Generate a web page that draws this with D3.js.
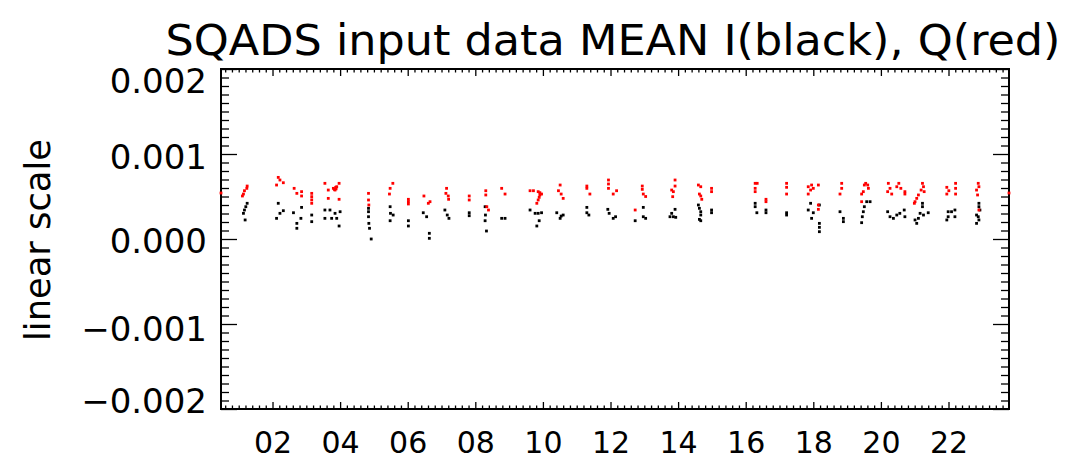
<!DOCTYPE html>
<html><head><meta charset="utf-8">
<script src="https://cdn.jsdelivr.net/npm/d3@7"></script>
<style>html,body{margin:0;padding:0;background:#fff;}svg{display:block;}</style>
</head><body><svg id="c" width="1067" height="471"></svg>
<script>
const titleText = "SQADS input data MEAN I(black), Q(red)";
const yTitle = "linear scale";
const xDomain = [0.476, 23.79];
const yDomain = [-0.002, 0.002];
const xMajorTicks = [2,4,6,8,10,12,14,16,18,20,22];
const yMajorTicks = [-0.002,-0.001,0,0.001,0.002];

const qHours = [0.476,
 1.25,1.24,1.17,1.14,1.11,
 2.17,2.22,2.32,2.12,
 2.64,2.72,2.86,2.86,
 3.16,3.16,3.16,3.16,
 3.55,3.65,3.80,3.90,3.97,3.65,3.97,3.85,3.87,3.83,3.88,
 4.84,4.84,4.85,
 5.56,5.48,5.46,
 6.02,6.02,6.02,
 6.48,6.61,6.66,
 7.15,7.13,7.20,7.21,
 7.82,7.82,
 8.31,8.31,8.34,8.39,
 8.78,8.88,
 9.62,9.72,9.86,9.91,9.96,9.86,9.82,9.91,9.89,
 10.51,10.46,10.54,10.60,
 11.30,11.30,11.39,
 11.94,11.94,11.94,12.18,12.08,
 12.94,12.94,12.97,13.04,12.73,
 13.91,13.91,13.81,13.86,13.84,
 14.60,14.67,14.63,14.67,14.70,
 14.99,14.99,
 16.28,16.28,16.28,16.34,16.60,16.60,
 17.21,17.21,17.21,
 17.85,17.95,18.00,17.92,17.85,18.15,18.15,18.15,
 18.84,18.84,18.79,
 19.51,19.55,19.61,19.63,19.48,19.43,19.43,
 20.22,20.27,20.20,20.32,20.47,20.53,20.59,20.71,20.71,
 21.23,21.26,21.19,21.28,21.11,21.06,21.01,20.99,
 21.95,22.01,21.95,22.21,22.21,22.21,
 22.88,22.90,22.83,22.86,22.90,
 23.79];
const qValues = [0.000541,
 0.000623,0.000596,0.000568,0.000529,0.000506,
 0.000725,0.000694,0.000662,0.000635,
 0.000596,0.000537,0.000557,0.000506,
 0.000537,0.000498,0.000460,0.000420,
 0.000655,0.000576,0.000596,0.000615,0.000655,0.000478,0.000467,0.000576,0.000608,0.000584,0.000590,
 0.000537,0.000459,0.000400,
 0.000655,0.000596,0.000529,
 0.000467,0.000440,0.000412,
 0.000506,0.000420,0.000439,
 0.000596,0.000537,0.000506,0.000467,
 0.000506,0.000459,
 0.000568,0.000518,0.000380,0.000341,
 0.000596,0.000529,
 0.000568,0.000568,0.000557,0.000518,0.000529,0.000459,0.000420,0.000545,0.000490,
 0.000635,0.000568,0.000529,0.000478,
 0.000623,0.000596,0.000529,
 0.000694,0.000647,0.000596,0.000568,0.000529,
 0.000623,0.000584,0.000529,0.000500,0.000341,
 0.000694,0.000623,0.000576,0.000557,0.000498,
 0.000635,0.000615,0.000529,0.000506,0.000467,
 0.000596,0.000557,
 0.000655,0.000596,0.000557,0.000655,0.000467,0.000439,
 0.000655,0.000608,0.000529,
 0.000615,0.000635,0.000596,0.000576,0.000529,0.000635,0.000400,0.000349,
 0.000655,0.000596,0.000529,
 0.000635,0.000655,0.000635,0.000596,0.000557,0.000529,0.000439,
 0.000655,0.000596,0.000557,0.000529,0.000615,0.000655,0.000596,0.000557,0.000529,
 0.000655,0.000615,0.000576,0.000557,0.000518,0.000478,0.000439,0.000420,
 0.000608,0.000568,0.000529,0.000655,0.000596,0.000529,
 0.000655,0.000615,0.000576,0.000518,0.000341,
 0.000541];

const iHours = [
 1.25,1.21,1.17,1.14,1.19,
 2.17,2.32,2.22,2.12,
 2.62,2.86,2.72,2.72,2.84,
 3.16,3.16,
 3.55,3.70,3.55,3.75,3.85,4.00,3.90,3.97,
 4.84,4.84,4.84,4.85,4.87,4.92,
 5.48,5.49,5.57,5.48,
 6.02,6.02,
 6.46,6.56,6.64,6.64,
 7.10,7.17,7.22,
 7.82,7.82,
 8.29,8.30,8.29,8.33,
 8.78,8.88,
 9.62,9.77,9.86,9.96,9.89,9.82,
 10.41,10.54,10.60,10.51,
 11.30,11.30,11.36,
 11.92,11.96,12.08,12.15,
 12.97,12.97,13.04,12.73,
 13.81,13.91,13.76,13.86,13.93,
 14.60,14.63,14.67,14.67,14.63,14.67,
 14.99,14.99,
 16.28,16.28,16.33,16.60,16.60,
 17.21,17.21,
 17.85,17.92,18.00,17.95,18.18,18.18,18.18,18.18,
 18.79,18.89,18.89,
 19.58,19.68,19.51,19.48,19.45,19.43,
 20.20,20.27,20.37,20.47,20.56,20.69,20.71,
 21.23,21.23,21.16,21.11,21.01,21.06,21.26,21.40,
 21.99,22.09,22.19,22.19,21.99,21.95,
 22.90,22.90,22.93,22.83,22.88,22.90,22.83];
const iValues = [
 0.000420,0.000380,0.000341,0.000302,0.000224,
 0.000420,0.000333,0.000302,0.000243,
 0.000309,0.000372,0.000184,0.000126,0.000243,
 0.000282,0.000204,
 0.000341,0.000341,0.000243,0.000243,0.000302,0.000321,0.000243,0.000153,
 0.000361,0.000321,0.000262,0.000184,0.000126,0.000000,
 0.000380,0.000302,0.000282,0.000215,
 0.000215,0.000153,
 0.000309,0.000262,0.000067,0.000008,
 0.000341,0.000282,0.000243,
 0.000309,0.000274,
 0.000380,0.000282,0.000215,0.000094,
 0.000243,0.000243,
 0.000341,0.000302,0.000302,0.000309,0.000215,0.000153,
 0.000309,0.000270,0.000282,0.000243,
 0.000372,0.000309,0.000282,
 0.000349,0.000302,0.000243,0.000262,
 0.000372,0.000262,0.000243,0.000215,
 0.000302,0.000349,0.000262,0.000262,0.000255,
 0.000400,0.000361,0.000321,0.000282,0.000231,0.000215,
 0.000341,0.000309,
 0.000420,0.000380,0.000309,0.000341,0.000309,
 0.000309,0.000282,
 0.000341,0.000420,0.000309,0.000243,0.000400,0.000184,0.000137,0.000086,
 0.000321,0.000243,0.000204,
 0.000439,0.000439,0.000380,0.000321,0.000262,0.000192,
 0.000321,0.000262,0.000243,0.000282,0.000302,0.000341,0.000262,
 0.000420,0.000380,0.000302,0.000243,0.000224,0.000184,0.000282,0.000309,
 0.000321,0.000321,0.000341,0.000262,0.000262,0.000224,
 0.000420,0.000380,0.000341,0.000282,0.000262,0.000224,0.000184];

const svg = d3.select("#c");
const L = 221, R = 1009, T = 69, B = 409;
const x = d3.scaleLinear().domain(xDomain).range([L, R]);
const y = d3.scaleLinear().domain(yDomain).range([B, T]);
const font = "'DejaVu Sans ExtraLight','DejaVu Sans', sans-serif";

const xMinor = d3.range(0, 24.01, 0.2).map(v => +v.toFixed(1)).filter(v => v >= xDomain[0] && v <= xDomain[1] && Math.abs(v/2 - Math.round(v/2)) > 1e-6);
const yMinor = d3.range(-20, 21).map(v => v/10000).filter(v => Math.abs(v*1000 - Math.round(v*1000)) > 1e-6);

function styleTicks(g){ g.select(".domain").remove(); g.selectAll("line").attr("stroke","#000").attr("stroke-width",1.3); }

svg.append("g").attr("transform",`translate(0,${B})`)
  .call(d3.axisBottom(x).tickValues(xMinor).tickSizeInner(-3.5).tickSizeOuter(0).tickFormat(""))
  .call(styleTicks);
svg.append("g").attr("transform",`translate(0,${B})`)
  .call(d3.axisBottom(x).tickValues(xMajorTicks).tickSizeInner(-7).tickSizeOuter(0).tickPadding(23).tickFormat(d3.format("02d")))
  .call(styleTicks)
  .call(g => g.selectAll("text").attr("font-family",font).attr("font-size",30).attr("fill","#000").attr("dy","0.71em"));
svg.append("g").attr("transform",`translate(0,${T})`)
  .call(d3.axisTop(x).tickValues(xMinor).tickSizeInner(-3.5).tickSizeOuter(0).tickFormat(""))
  .call(styleTicks);
svg.append("g").attr("transform",`translate(0,${T})`)
  .call(d3.axisTop(x).tickValues(xMajorTicks).tickSizeInner(-7).tickSizeOuter(0).tickFormat(""))
  .call(styleTicks);
svg.append("g").attr("transform",`translate(${L},0)`)
  .call(d3.axisLeft(y).tickValues(yMinor).tickSizeInner(-8).tickSizeOuter(0).tickFormat(""))
  .call(styleTicks);
const labelShift = {"-0.002":-9, "-0.001":4, "0":1, "0.001":2, "0.002":11};
svg.append("g").attr("transform",`translate(${L},0)`)
  .call(d3.axisLeft(y).tickValues(yMajorTicks).tickSizeInner(-16).tickSizeOuter(0).tickPadding(14).tickFormat(d3.format(".3f")))
  .call(styleTicks)
  .call(g => g.selectAll("text").attr("font-family",font).attr("font-size",34).attr("fill","#000")
     .attr("dy", d => (0.36 + (labelShift[String(d)]||0)/34) + "em"));
svg.append("g").attr("transform",`translate(${R},0)`)
  .call(d3.axisRight(y).tickValues(yMinor).tickSizeInner(-8).tickSizeOuter(0).tickFormat(""))
  .call(styleTicks);
svg.append("g").attr("transform",`translate(${R},0)`)
  .call(d3.axisRight(y).tickValues(yMajorTicks).tickSizeInner(-16).tickSizeOuter(0).tickFormat(""))
  .call(styleTicks);

svg.append("rect").attr("x",L).attr("y",T).attr("width",R-L).attr("height",B-T)
  .attr("fill","none").attr("stroke","#000").attr("stroke-width",2);

const ms = 2.8;
const iData = iHours.map((h,k)=>({h, v:iValues[k]}));
const qData = qHours.map((h,k)=>({h, v:qValues[k]}));
svg.append("g").selectAll("rect").data(iData).join("rect")
  .attr("x", d=>x(d.h)-ms/2).attr("y", d=>y(d.v)-ms/2).attr("width",ms).attr("height",ms).attr("fill","#000");
svg.append("g").selectAll("rect").data(qData).join("rect")
  .attr("x", d=>x(d.h)-ms/2).attr("y", d=>y(d.v)-ms/2).attr("width",ms).attr("height",ms).attr("fill","#ff0000");

svg.append("text").attr("x",(L+R)/2 - 2).attr("y",55).attr("text-anchor","middle")
  .attr("font-family",font).attr("font-size",43).attr("fill","#000")
  .attr("textLength",895).attr("lengthAdjust","spacingAndGlyphs").text(titleText);
svg.append("text").attr("transform",`translate(50,240) rotate(-90)`).attr("text-anchor","middle")
  .attr("font-family",font).attr("font-size",35).attr("fill","#000")
  .attr("textLength",202).attr("lengthAdjust","spacingAndGlyphs").text(yTitle);
</script></body></html>
